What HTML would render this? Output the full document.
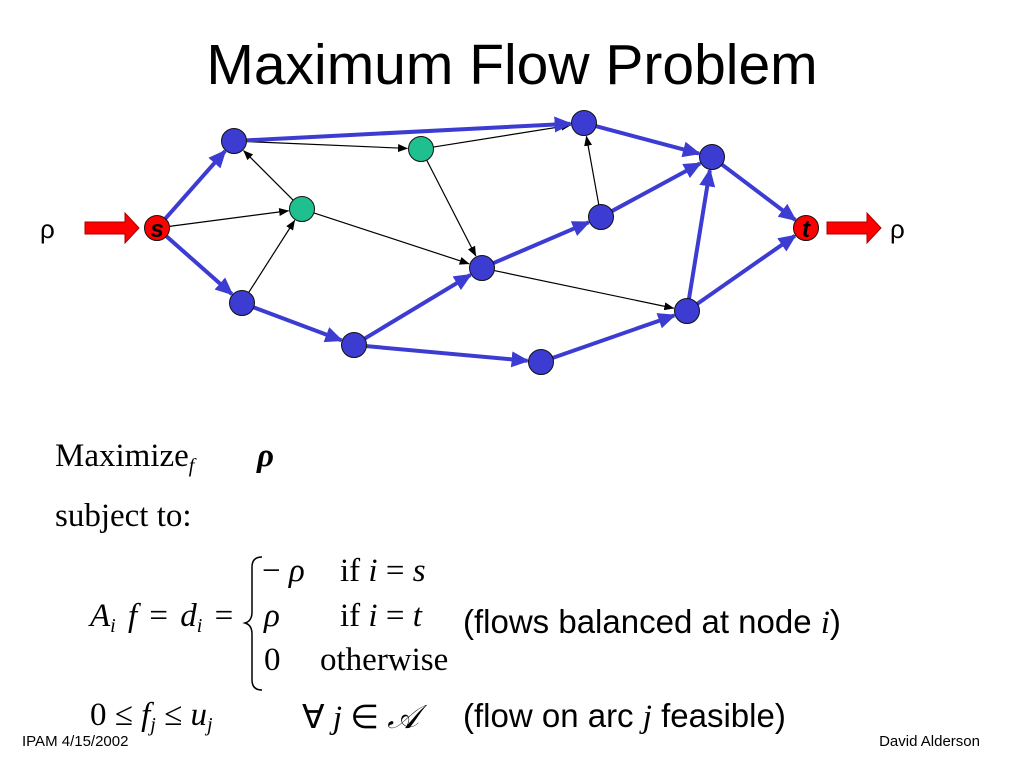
<!DOCTYPE html>
<html><head><meta charset="utf-8"><style>
body{margin:0;width:1024px;height:768px;background:#fff;overflow:hidden;position:relative;font-family:"Liberation Sans",sans-serif}
.a{position:absolute;white-space:nowrap}
.s{font-family:"Liberation Serif",serif;font-size:33px}
.i{font-style:italic}
sub{font-size:20px;vertical-align:-6px;font-style:italic}
</style></head><body>
<div class="a" style="left:0;width:1024px;text-align:center;top:32px;font-size:57px">Maximum Flow Problem</div>
<svg id="g" width="1024" height="768" style="position:absolute;left:0;top:0">
<defs>
<marker id="mb" markerWidth="4.5" markerHeight="4" refX="4" refY="2" orient="auto" markerUnits="strokeWidth"><path d="M0,0L4.5,2L0,4z" fill="#3c3cd2"/></marker>
<marker id="mk" markerWidth="10" markerHeight="8" refX="9.5" refY="4" orient="auto" markerUnits="userSpaceOnUse"><path d="M0,0L10,4L0,8z" fill="#000"/></marker>
</defs>
<path d="M85,222h40v-9l14,15l-14,15v-9h-40z" fill="#f00" stroke="#a00" stroke-width="1"/>
<path d="M827,222h40v-9l14,15l-14,15v-9h-40z" fill="#f00" stroke="#a00" stroke-width="1"/>
<path d="M262,557 Q252,557 252,567 L252,612 Q252,621 245,623 Q252,625 252,634 L252,680 Q252,690 262,690" fill="none" stroke="#000" stroke-width="1.5"/>
</svg>
<script>
var N={s:[157,228,'#f00'],A:[234,141,'#3c3cd2'],B:[242,303,'#3c3cd2'],G1:[302,209,'#1fbf8f'],G2:[421,149,'#1fbf8f'],C:[354,345,'#3c3cd2'],D:[482,268,'#3c3cd2'],E:[584,123,'#3c3cd2'],F:[601,217,'#3c3cd2'],G:[541,362,'#3c3cd2'],H:[712,157,'#3c3cd2'],I:[687,311,'#3c3cd2'],t:[806,228,'#f00']};
var B=[['s','A'],['s','B'],['A','E'],['B','C'],['C','D'],['C','G'],['D','F'],['F','H'],['E','H'],['G','I'],['I','H'],['H','t'],['I','t']];
var K=[['A','G2'],['s','G1'],['G1','A'],['B','G1'],['G2','E'],['G2','D'],['G1','D'],['D','I'],['F','E']];
var g=document.getElementById('g'),h='',r=12.5;
function ln(a,b,blue){var p=N[a],q=N[b],dx=q[0]-p[0],dy=q[1]-p[1],L=Math.hypot(dx,dy),ux=dx/L,uy=dy/L;
h+='<line x1="'+(p[0]+ux*r)+'" y1="'+(p[1]+uy*r)+'" x2="'+(q[0]-ux*(r+1))+'" y2="'+(q[1]-uy*(r+1))+'" stroke="'+(blue?'#3c3cd2':'#000')+'" stroke-width="'+(blue?4:1.2)+'" marker-end="url(#'+(blue?'mb':'mk')+')"/>';}
K.forEach(function(e){ln(e[0],e[1],0)});B.forEach(function(e){ln(e[0],e[1],1)});
for(var k in N){var n=N[k];h+='<circle cx="'+n[0]+'" cy="'+n[1]+'" r="'+r+'" fill="'+n[2]+'" stroke="#111" stroke-width="1"/>';}
h+='<text x="157" y="237" text-anchor="middle" font-family="Liberation Sans" font-weight="bold" font-style="italic" font-size="24">s</text>';
h+='<text x="806" y="237" text-anchor="middle" font-family="Liberation Sans" font-weight="bold" font-style="italic" font-size="24">t</text>';
h+='<text x="40" y="238" font-family="Liberation Sans" font-size="26">ρ</text><text x="890" y="238" font-family="Liberation Sans" font-size="26">ρ</text>';
g.insertAdjacentHTML('beforeend',h);
</script>
<div class="a s" style="left:55px;top:438px">Maximize<sub>f</sub></div>
<div class="a s i" style="left:257px;top:438px;font-weight:bold">ρ</div>
<div class="a s" style="left:55px;top:498px">subject to:</div>
<div class="a s" style="left:90px;top:598px;word-spacing:4px"><span class="i">A</span><sub>i</sub> <span class="i">f</span> = <span class="i">d</span><sub>i</sub> =</div>
<div class="a s" style="left:262px;top:553px">− <span class="i">ρ</span></div>
<div class="a s" style="left:340px;top:553px">if <span class="i">i</span> = <span class="i">s</span></div>
<div class="a s i" style="left:264px;top:598px">ρ</div>
<div class="a s" style="left:340px;top:598px">if <span class="i">i</span> = <span class="i">t</span></div>
<div class="a s" style="left:264px;top:642px">0</div>
<div class="a s" style="left:320px;top:642px">otherwise</div>
<div class="a" style="left:463px;top:603px;font-size:33px">(flows balanced at node <span class="s i">i</span>)</div>
<div class="a s" style="left:90px;top:697px">0 ≤ <span class="i">f</span><sub>j</sub> ≤ <span class="i">u</span><sub>j</sub></div>
<div class="a s" style="left:302px;top:697px">∀ <span class="i">j</span> ∈ <span class="i" style="font-family:'DejaVu Serif',serif">𝒜</span></div>
<div class="a" style="left:463px;top:697px;font-size:33px">(flow on arc <span class="s i">j</span> feasible)</div>
<div class="a" style="left:22px;top:733px;font-size:15px">IPAM 4/15/2002</div>
<div class="a" style="right:44px;top:733px;font-size:15px">David Alderson</div>
</body></html>
